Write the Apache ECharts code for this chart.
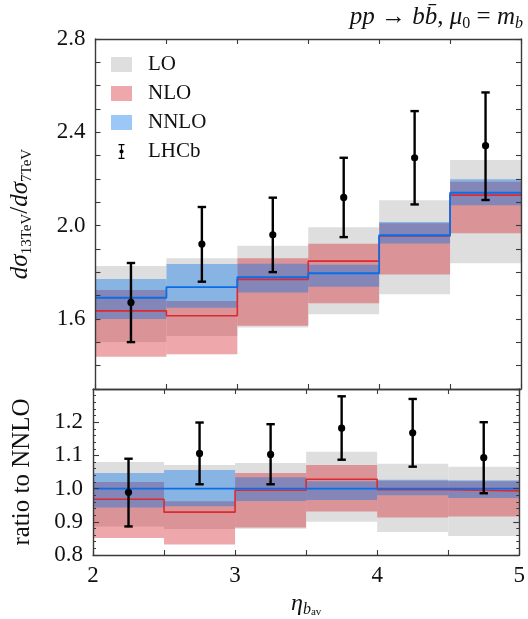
<!DOCTYPE html>
<html><head><meta charset="utf-8">
<script src="https://cdn.jsdelivr.net/npm/echarts@6/dist/echarts.min.js"></script>
<style>html,body{margin:0;padding:0;background:#fff}#c{width:528px;height:619px}</style>
</head><body><div id="c"></div>
<script>
// ---- data ----
const binLo = [2, 2.5, 3, 3.5, 4, 4.5];
const binHi = [2.5, 3, 3.5, 4, 4.5, 5];
const binMid = [2.25, 2.75, 3.25, 3.75, 4.25, 4.75];

// top panel: dsigma13/dsigma7
const loHi   = [1.827, 1.860, 1.914, 1.993, 2.109, 2.281];
const loLo   = [1.501, 1.527, 1.564, 1.620, 1.706, 1.839];
const nloHi  = [1.724, 1.677, 1.860, 1.923, 2.010, 2.188];
const nloC   = [1.635, 1.614, 1.770, 1.848, 1.956, 2.131];
const nloLo  = [1.438, 1.449, 1.571, 1.667, 1.791, 1.967];
const nnloHi = [1.771, 1.836, 1.837, 1.833, 2.016, 2.199];
const nnloC  = [1.691, 1.737, 1.779, 1.796, 1.959, 2.141];
const nnloLo = [1.600, 1.648, 1.714, 1.738, 1.924, 2.088];
const lhcb   = [1.671, 1.921, 1.961, 2.121, 2.291, 2.343];
const lhcbUp = [1.840, 2.080, 2.120, 2.291, 2.491, 2.571];
const lhcbDn = [1.501, 1.760, 1.801, 1.951, 2.091, 2.110];

// bottom panel: ratio to NNLO
const rLoHi   = [1.080, 1.071, 1.077, 1.111, 1.075, 1.066];
const rLoLo   = [0.886, 0.878, 0.879, 0.900, 0.869, 0.857];
const rNloHi  = [1.020, 0.962, 1.047, 1.071, 1.024, 1.022];
const rNloC   = [0.968, 0.929, 0.995, 1.028, 0.997, 0.993];
const rNloLo  = [0.851, 0.832, 0.883, 0.931, 0.913, 0.916];
const rNnloHi = [1.047, 1.056, 1.034, 1.022, 1.027, 1.025];
const rNnloC  = [1.000, 1.000, 1.000, 1.000, 1.000, 1.000];
const rNnloLo = [0.943, 0.947, 0.963, 0.966, 0.980, 0.972];
const rLhcb   = [0.989, 1.106, 1.103, 1.182, 1.168, 1.093];
const rLhcbUp = [1.090, 1.199, 1.194, 1.278, 1.270, 1.200];
const rLhcbDn = [0.886, 1.013, 1.013, 1.087, 1.066, 0.986];

const topTickLabels = ['1.6', '2.0', '2.4', '2.8'];
const botTickLabels = ['0.8', '0.9', '1.0', '1.1', '1.2'];
const xTickLabels = ['2', '3', '4', '5'];

// ---- styles ----
const FONT = 'Liberation Serif';
const C_LO = '#dedede';
const C_NLO = 'rgba(212,29,39,0.39)';
const C_NNLO = 'rgba(0,114,237,0.39)';
const C_NLO_LINE = '#dc2a30';
const C_NNLO_LINE = '#0a6ee6';
const AX = '#3a3a3a';

function bandData(lo, hi) { return binLo.map((x0, i) => [x0, binHi[i], lo[i], hi[i]]); }
function stepData(c) { return binLo.map((x, i) => [x, c[i]]).concat([[binHi[binHi.length - 1], c[c.length - 1]]]); }
function errData(v, dn, up) { return binMid.map((x, i) => [x, v[i], dn[i], up[i]]); }

function bandRender(color) {
  return function (params, api) {
    const p0 = api.coord([api.value(0), api.value(3)]);
    const p1 = api.coord([api.value(1), api.value(2)]);
    return { type: 'rect', shape: { x: p0[0], y: p0[1], width: p1[0] - p0[0], height: p1[1] - p0[1] },
      style: { fill: color } };
  };
}
function errRender(params, api) {
  const c = api.coord([api.value(0), api.value(1)]);
  const t = api.coord([api.value(0), api.value(3)]);
  const b = api.coord([api.value(0), api.value(2)]);
  const w = 4.2;
  const st = { stroke: '#000', lineWidth: 2.4, fill: null };
  return { type: 'group', children: [
    { type: 'line', shape: { x1: c[0], y1: t[1], x2: c[0], y2: b[1] }, style: st },
    { type: 'line', shape: { x1: c[0] - w, y1: t[1], x2: c[0] + w, y2: t[1] }, style: st },
    { type: 'line', shape: { x1: c[0] - w, y1: b[1], x2: c[0] + w, y2: b[1] }, style: st },
    { type: 'circle', shape: { cx: c[0], cy: c[1], r: 3.6 }, style: { fill: '#000' } }
  ] };
}

function panelSeries(xi, yi, d) {
  return [
    { name: 'LO', type: 'custom', xAxisIndex: xi, yAxisIndex: yi, z: 1, clip: true,
      itemStyle: { color: C_LO }, renderItem: bandRender(C_LO), data: bandData(d.loLo, d.loHi), silent: true },
    { name: 'NLO', type: 'custom', xAxisIndex: xi, yAxisIndex: yi, z: 2, clip: true,
      itemStyle: { color: C_NLO }, renderItem: bandRender(C_NLO), data: bandData(d.nloLo, d.nloHi), silent: true },
    { name: 'NNLO', type: 'custom', xAxisIndex: xi, yAxisIndex: yi, z: 3, clip: true,
      itemStyle: { color: C_NNLO }, renderItem: bandRender(C_NNLO), data: bandData(d.nnloLo, d.nnloHi), silent: true },
    { name: 'NLO', type: 'line', xAxisIndex: xi, yAxisIndex: yi, z: 4, step: 'end', symbol: 'none',
      lineStyle: { color: C_NLO_LINE, width: 1.6 }, itemStyle: { color: C_NLO }, data: stepData(d.nloC), silent: true },
    { name: 'NNLO', type: 'line', xAxisIndex: xi, yAxisIndex: yi, z: 5, step: 'end', symbol: 'none',
      lineStyle: { color: C_NNLO_LINE, width: 1.8 }, itemStyle: { color: C_NNLO }, data: stepData(d.nnloC), silent: true },
    { name: 'LHCb', type: 'custom', xAxisIndex: xi, yAxisIndex: yi, z: 6, clip: false,
      itemStyle: { color: '#000' }, renderItem: errRender, data: errData(d.v, d.dn, d.up), silent: true }
  ];
}

const axisLineS = { show: true, lineStyle: { color: AX, width: 1.4 } };
function xAx(gi, pos, showLabels, extra) {
  return Object.assign({
    type: 'value', gridIndex: gi, position: pos, min: 2, max: 5, interval: 0.5, z: 10,
    axisLine: axisLineS, splitLine: { show: false },
    axisTick: { show: true, inside: true, length: 5, lineStyle: { color: AX, width: 1.1 } },
    axisLabel: { show: showLabels, margin: 9, fontFamily: FONT, fontSize: 23, color: '#111',
      formatter: v => { const s = String(Math.round(v)); return (Math.abs(v - Math.round(v)) < 1e-6 && xTickLabels.includes(s)) ? s : ''; } }
  }, extra || {});
}

const chart = echarts.init(document.getElementById('c'), null, { renderer: 'canvas' });
chart.setOption({
  animation: false,
  backgroundColor: '#fff',
  title: {
    text: '{i|pp} → {i|b}{i|b̄}, {i|μ}{s|0} = {i|m}{si|b}',
    right: 5, top: 2, padding: 0,
    textStyle: { fontFamily: FONT, fontSize: 25, fontWeight: 'normal', color: '#111',
      rich: {
        i: { fontFamily: FONT, fontStyle: 'italic', fontSize: 25, lineHeight: 30, color: '#111' },
        s: { fontFamily: FONT, fontSize: 16, lineHeight: 14, verticalAlign: 'bottom', color: '#111' },
        si: { fontFamily: FONT, fontStyle: 'italic', fontSize: 16, lineHeight: 14, verticalAlign: 'bottom', color: '#111' }
      } }
  },
  legend: {
    orient: 'vertical', left: 111, top: 54, padding: 0, itemWidth: 21, itemHeight: 15, itemGap: 8,
    data: [
      { name: 'LO', icon: 'rect' },
      { name: 'NLO', icon: 'rect' },
      { name: 'NNLO', icon: 'rect' },
      { name: 'LHCb', icon: 'path://M0,0h8v1.6h-8z M3.2,0h1.6v20h-1.6z M0,18.4h8v1.6h-8z M4,7.2a2.8,2.8 0 1,1 -0.001,0z' }
    ],
    formatter: '{a|{name}}',
    textStyle: { color: '#111', fontFamily: FONT, fontSize: 21,
      rich: { a: { fontFamily: FONT, fontSize: 21, color: '#111', padding: [0, 0, 0, 11], lineHeight: 20 } } },
    selectedMode: false
  },
  grid: [
    { left: 93, right: 7, top: 39, height: 350 },
    { left: 93, right: 7, top: 389, height: 174 }
  ],
  xAxis: [
    xAx(0, 'bottom', false),
    xAx(0, 'top', false),
    xAx(1, 'bottom', true, {
      name: '{i|η}{s|b}{ss|av}', nameLocation: 'middle', nameGap: 35,
      nameTextStyle: { fontFamily: FONT, color: '#111', fontSize: 24,
        rich: {
          i: { fontFamily: FONT, fontStyle: 'italic', fontSize: 24, lineHeight: 28, color: '#111' },
          s: { fontFamily: FONT, fontStyle: 'italic', fontSize: 16, lineHeight: 16, verticalAlign: 'bottom', color: '#111' },
          ss: { fontFamily: FONT, fontSize: 11, lineHeight: 6, verticalAlign: 'bottom', color: '#111' }
        } }
    }),
    xAx(1, 'top', false)
  ],
  yAxis: [
    { type: 'value', gridIndex: 0, position: 'left', min: 1.3, max: 2.8, interval: 0.1, z: 10,
      axisLine: axisLineS, splitLine: { show: false },
      axisTick: { show: true, inside: true, length: 5, lineStyle: { color: AX, width: 1.1 } },
      axisLabel: { margin: 10, fontFamily: FONT, fontSize: 23, color: '#111',
        formatter: v => { const s = v.toFixed(1); return topTickLabels.includes(s) ? s : ''; } },
      name: '{i|dσ}{s|13TeV}{n|/}{i|dσ}{s|7TeV}', nameLocation: 'middle', nameRotate: 90, nameGap: 61,
      nameTextStyle: { fontFamily: FONT, color: '#111', fontSize: 24,
        rich: {
          i: { fontFamily: FONT, fontStyle: 'italic', fontSize: 25, lineHeight: 28, color: '#111' },
          n: { fontFamily: FONT, fontSize: 25, lineHeight: 28, color: '#111' },
          s: { fontFamily: FONT, fontSize: 15, lineHeight: 12, verticalAlign: 'bottom', color: '#111' }
        } }
    },
    { type: 'value', gridIndex: 0, position: 'right', min: 1.3, max: 2.8, interval: 0.1, z: 10,
      axisLine: axisLineS, splitLine: { show: false },
      axisTick: { show: true, inside: true, length: 5, lineStyle: { color: AX, width: 1.1 } },
      axisLabel: { show: false } },
    { type: 'value', gridIndex: 1, position: 'left', min: 0.8, max: 1.3, interval: 0.1, z: 10,
      axisLine: axisLineS, splitLine: { show: false },
      axisTick: { show: true, inside: true, length: 6, lineStyle: { color: AX, width: 1.1 } },
      minorTick: { show: true, splitNumber: 5, length: 3, lineStyle: { color: AX, width: 1 } },
      minorSplitLine: { show: false },
      axisLabel: { margin: 10, fontFamily: FONT, fontSize: 23, color: '#111',
        formatter: v => { const s = v.toFixed(1); return botTickLabels.includes(s) ? s : ''; } },
      name: 'ratio to NNLO', nameLocation: 'middle', nameRotate: 90, nameGap: 58,
      nameTextStyle: { fontFamily: FONT, color: '#111', fontSize: 25 }
    },
    { type: 'value', gridIndex: 1, position: 'right', min: 0.8, max: 1.3, interval: 0.1, z: 10,
      axisLine: axisLineS, splitLine: { show: false },
      axisTick: { show: true, inside: true, length: 6, lineStyle: { color: AX, width: 1.1 } },
      minorTick: { show: true, splitNumber: 5, length: 3, lineStyle: { color: AX, width: 1 } },
      axisLabel: { show: false } }
  ],
  series: [].concat(
    panelSeries(0, 0, { loLo, loHi, nloLo, nloHi, nnloLo, nnloHi, nloC, nnloC, v: lhcb, dn: lhcbDn, up: lhcbUp }),
    panelSeries(2, 2, { loLo: rLoLo, loHi: rLoHi, nloLo: rNloLo, nloHi: rNloHi, nnloLo: rNnloLo, nnloHi: rNnloHi,
      nloC: rNloC, nnloC: rNnloC, v: rLhcb, dn: rLhcbDn, up: rLhcbUp })
  )
});
</script></body></html>
